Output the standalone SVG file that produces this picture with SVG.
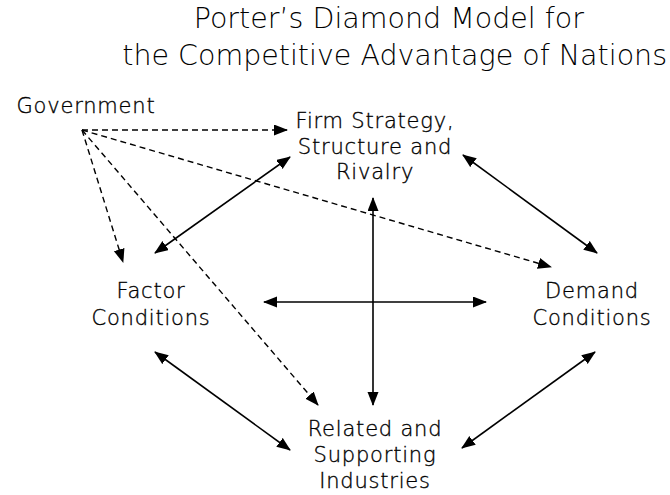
<svg xmlns="http://www.w3.org/2000/svg" width="670" height="495" viewBox="0 0 670 495">
  <style>
    text { font-family: "DejaVu Sans", Verdana, sans-serif; fill: #000; }
    .title { font-size: 28.5px; font-weight: 200; text-anchor: end; }
    .lbl { font-size: 21px; font-weight: 200; letter-spacing: 0.8px; text-anchor: middle; stroke: #000; stroke-width: 0.35; }
    .solid { stroke: #000; stroke-width: 1.6; fill: none; }
    .dash { stroke: #000; stroke-width: 1.4; fill: none; stroke-dasharray: 6 4; }
  </style>
  <defs>
    <marker id="head" markerUnits="userSpaceOnUse" markerWidth="14" markerHeight="12" refX="13" refY="5.5" orient="auto-start-reverse" viewBox="0 0 14 12">
      <path d="M0,0 L14,5.5 L0,11 z" fill="#000"/>
    </marker>
  </defs>
  <rect width="670" height="495" fill="#fff"/>

  <g id="title">
    <text class="title" x="584" y="28">Porter’s Diamond Model for</text>
    <text class="title" x="667" y="65">the Competitive Advantage of Nations</text>
  </g>

  <g id="government">
    <text class="lbl" x="86" y="113">Government</text>
  </g>
  <g id="firm-strategy">
    <text class="lbl" x="375" y="128">Firm Strategy,</text>
    <text class="lbl" x="375" y="154">Structure and</text>
    <text class="lbl" x="375" y="179">Rivalry</text>
  </g>
  <g id="factor-conditions">
    <text class="lbl" x="151" y="298">Factor</text>
    <text class="lbl" x="151" y="325">Conditions</text>
  </g>
  <g id="demand-conditions">
    <text class="lbl" x="592" y="298">Demand</text>
    <text class="lbl" x="592" y="325">Conditions</text>
  </g>
  <g id="related-supporting">
    <text class="lbl" x="375" y="436">Related and</text>
    <text class="lbl" x="375" y="462">Supporting</text>
    <text class="lbl" x="375" y="488">Industries</text>
  </g>

  <g id="connectors">
    <!-- government influence (dashed, one-way) -->
    <line class="dash" x1="82" y1="130" x2="287" y2="130" marker-end="url(#head)"/>
    <line class="dash" x1="82" y1="130" x2="123" y2="262" marker-end="url(#head)"/>
    <line class="dash" x1="82" y1="130" x2="318" y2="405" marker-end="url(#head)"/>
    <line class="dash" x1="82" y1="130" x2="551" y2="267" marker-end="url(#head)"/>
    <!-- diamond edges (two-way) -->
    <line class="solid" x1="155" y1="253" x2="290" y2="157" marker-start="url(#head)" marker-end="url(#head)"/>
    <line class="solid" x1="463" y1="155" x2="597" y2="253" marker-start="url(#head)" marker-end="url(#head)"/>
    <line class="solid" x1="155" y1="352" x2="290" y2="450" marker-start="url(#head)" marker-end="url(#head)"/>
    <line class="solid" x1="595" y1="352" x2="462" y2="448" marker-start="url(#head)" marker-end="url(#head)"/>
    <!-- central cross -->
    <line class="solid" x1="373" y1="198" x2="373" y2="405" marker-start="url(#head)" marker-end="url(#head)"/>
    <line class="solid" x1="264" y1="302" x2="486" y2="302" marker-start="url(#head)" marker-end="url(#head)"/>
  </g>
</svg>
